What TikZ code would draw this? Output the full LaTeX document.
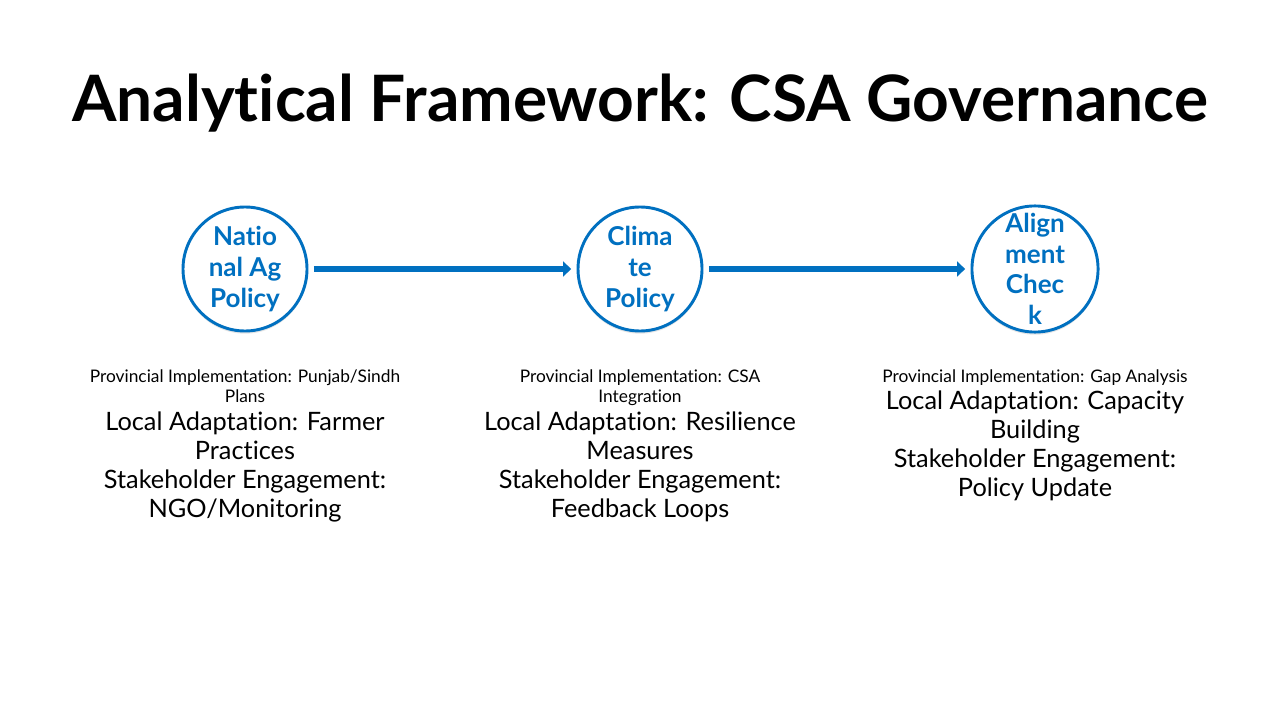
\documentclass[tikz,border=0pt]{standalone}
\usepackage{fontspec}
\setmainfont{Lato}[Ligatures={NoCommon}]
\usetikzlibrary{arrows.meta,shadows}
\definecolor{blu}{HTML}{0070C0}
\tikzset{
  circnode/.style={circle, draw=blu, line width=2.2pt, fill=white, minimum size=93pt, inner sep=0pt,
    text=blu, font=\bfseries\fontsize{19.5}{23}\selectfont, align=center,
    drop shadow={opacity=0.2, shadow xshift=0pt, shadow yshift=-2pt}},
  flow/.style={draw=blu, line width=4.8pt, -{Triangle[length=6pt,width=11pt]}, shorten <=4pt, shorten >=4pt},
  smalltxt/.style={font=\fontsize{13}{15}\selectfont, align=center, anchor=base, inner sep=0pt},
  bigtxt/.style={font=\fontsize{19}{21.75}\selectfont, align=center, anchor=base, inner sep=0pt},
}
\begin{document}
\begin{tikzpicture}[x=0.75pt,y=-0.75pt]
\useasboundingbox[fill=white] (0,0) rectangle (1280,720);
\node[font=\bfseries\fontsize{48}{56}\selectfont, anchor=base, inner sep=0pt] (title) at (640,122) {Analytical Framework: CSA Governance};

\node[circnode] (c1) at (245,269) {Natio\\nal Ag\\Policy};
\node[circnode] (c2) at (640,269) {Clima\\te\\Policy};
\node[circnode] (c3) at (1035,269) {Align\\ment\\Chec\\k};

\draw[flow] (c1) -- (c2);
\draw[flow] (c2) -- (c3);

% base anchor of a multi-line node is the baseline of its last line
\node[smalltxt] (p1) at (245,402) {Provincial Implementation: Punjab/Sindh\\Plans};
\node[bigtxt] (l1) at (245,517) {Local Adaptation: Farmer\\Practices\\Stakeholder Engagement:\\NGO/Monitoring};

\node[smalltxt] (p2) at (640,402) {Provincial Implementation: CSA\\Integration};
\node[bigtxt] (l2) at (640,517) {Local Adaptation: Resilience\\Measures\\Stakeholder Engagement:\\Feedback Loops};

\node[smalltxt] (p3) at (1035,382) {Provincial Implementation: Gap Analysis};
\node[bigtxt] (l3) at (1035,496) {Local Adaptation: Capacity\\Building\\Stakeholder Engagement:\\Policy Update};
\end{tikzpicture}
\end{document}
